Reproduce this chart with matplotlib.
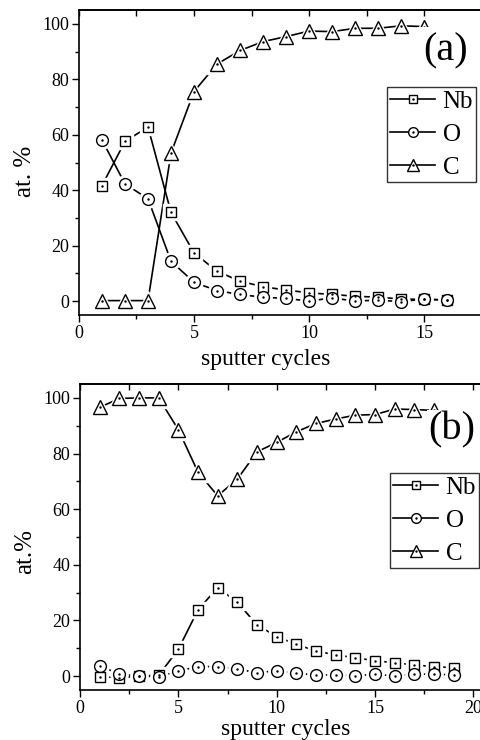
import numpy as np
import matplotlib
matplotlib.use('Agg')
import matplotlib.pyplot as plt
from matplotlib.lines import Line2D
from matplotlib.legend_handler import HandlerTuple
from matplotlib.ticker import MultipleLocator

plt.rcParams['font.family'] = ['Liberation Serif', 'DejaVu Serif']

# panel (a)
cycles_a = [1, 2, 3, 4, 5, 6, 7, 8, 9, 10, 11, 12, 13, 14, 15, 16]
nb_a = [41.7, 57.6, 62.8, 32.0, 17.4, 10.8, 7.2, 5.2, 4.0, 3.0, 2.4, 1.8, 1.4, 0.8, 0.6, 0.4]
o_a = [58.1, 42.3, 36.9, 14.4, 6.8, 3.8, 2.4, 1.4, 1.0, 0.0, 1.2, 0.0, 0.4, -0.2, 0.8, 0.4]
c_cycles_a = [1, 2, 3, 4, 5, 6, 7, 8, 9, 10, 11, 12, 13, 14, 15]
c_a = [0.2, 0.2, 0.2, 53.4, 75.6, 85.5, 90.4, 93.6, 95.4, 97.4, 97.2, 98.4, 98.4, 99.3, 99.0]

# panel (b)
cycles_b = [1, 2, 3, 4, 5, 6, 7, 8, 9, 10, 11, 12, 13, 14, 15, 16, 17, 18, 19]
nb_b = [-0.2, -0.6, 0.0, 0.3, 9.6, 23.8, 31.8, 26.5, 18.4, 14.2, 11.4, 9.0, 7.6, 6.6, 5.5, 4.8, 4.0, 3.4, 3.0]
o_b = [3.7, 0.7, 0.0, -0.2, 1.8, 3.4, 3.4, 2.5, 1.2, 1.9, 1.0, 0.4, 0.4, 0.0, 0.7, 0.0, 0.7, 0.7, 0.4]
c_cycles_b = [1, 2, 3, 4, 5, 6, 7, 8, 9, 10, 11, 12, 13, 14, 15, 16, 17, 18]
c_b = [96.6, 99.8, 100.0, 100.0, 88.6, 73.3, 64.8, 70.8, 80.6, 84.0, 87.8, 90.8, 92.4, 93.8, 94.0, 96.0, 95.8, 95.5]

species = ['Nb', 'O', 'C']
markers = {'Nb': ('s', 7.5), 'O': ('o', 8.5), 'C': ('^', 10.5)}


def draw_series(ax, x, y, name):
    m, ms = markers[name]
    ax.plot(x, y, '-', color='black', lw=1.2, zorder=2)
    # white halo -> small gap between line and marker, like Origin
    ax.plot(x, y, ls='none', marker=m, ms=ms + 4, mfc='white', mec='white', mew=1, zorder=3)
    ax.plot(x, y, ls='none', marker=m, ms=ms, mfc='white', mec='black', mew=1.0, zorder=4)
    ax.plot(x, y, ls='none', marker='.', ms=1.5, color='black', zorder=5)


def style_axes(ax, xmax):
    ax.set_xlim(0, xmax)
    ax.set_ylim(-5, 105)
    ax.xaxis.set_major_locator(MultipleLocator(5))
    ax.xaxis.set_minor_locator(MultipleLocator(2.5))
    ax.yaxis.set_major_locator(MultipleLocator(20))
    ax.yaxis.set_minor_locator(MultipleLocator(10))
    ax.tick_params(which='major', direction='out', length=5, width=1, labelsize=13, pad=2)
    ax.tick_params(which='minor', direction='out', length=3, width=1)
    top = ax.secondary_xaxis('top')
    top.xaxis.set_major_locator(MultipleLocator(2.5))
    top.tick_params(direction='in', length=4, width=1, labeltop=False)
    top.spines['top'].set_linewidth(1.2)
    for s in ax.spines.values():
        s.set_linewidth(1.2)


def add_legend(ax, x0, y0):
    handles = []
    for name in species:
        m, ms = markers[name]
        h1 = Line2D([], [], color='black', lw=1.2, marker=m, ms=ms - 1.5, mfc='white', mec='black', mew=1.0)
        h2 = Line2D([], [], ls='none', marker='.', ms=1.5, color='black')
        handles.append((h1, h2))
    leg = ax.legend(handles, species, handler_map={tuple: HandlerTuple(ndivide=1)},
                    loc='upper left', bbox_to_anchor=(x0, y0), fontsize=18, frameon=True,
                    fancybox=False, edgecolor='black', handlelength=1.8, handletextpad=0.3,
                    borderpad=0.12, labelspacing=0.42, borderaxespad=0, numpoints=1)
    leg.get_frame().set_linewidth(1.0)
    leg.set_zorder(10)


fig = plt.figure(figsize=(4.81, 7.40), dpi=100)

ax1 = fig.add_axes([0.1642, 0.5743, 0.861, 0.4122])
draw_series(ax1, cycles_a, nb_a, 'Nb')
draw_series(ax1, cycles_a, o_a, 'O')
draw_series(ax1, c_cycles_a, c_a, 'C')
style_axes(ax1, 18)
add_legend(ax1, 0.744, 0.7475)
ax1.text(14.95, 90.3, '(a)', fontsize=29, ha='left', va='center', zorder=8,
         bbox=dict(facecolor='white', edgecolor='none', pad=4))
fig.text(266 / 481, 1 - 360 / 740, 'sputter cycles', fontsize=17, ha='center', va='center')
fig.text(25 / 481, 1 - 171 / 740, 'at. %', fontsize=18, rotation=90, ha='center', va='center')

ax2 = fig.add_axes([0.1663, 0.0676, 0.8587, 0.4135])
draw_series(ax2, cycles_b, nb_b, 'Nb')
draw_series(ax2, cycles_b, o_b, 'O')
draw_series(ax2, c_cycles_b, c_b, 'C')
style_axes(ax2, 21)
add_legend(ax2, 0.7506, 0.709)
ax2.text(17.7, 88.5, '(b)', fontsize=29, ha='left', va='center', zorder=8,
         bbox=dict(facecolor='white', edgecolor='none', pad=1))
fig.text(286 / 481, 1 - 730 / 740, 'sputter cycles', fontsize=17, ha='center', va='center')
fig.text(25 / 481, 1 - 552 / 740, 'at.%', fontsize=18, rotation=90, ha='center', va='center')

fig.savefig('out.png', dpi=100)
